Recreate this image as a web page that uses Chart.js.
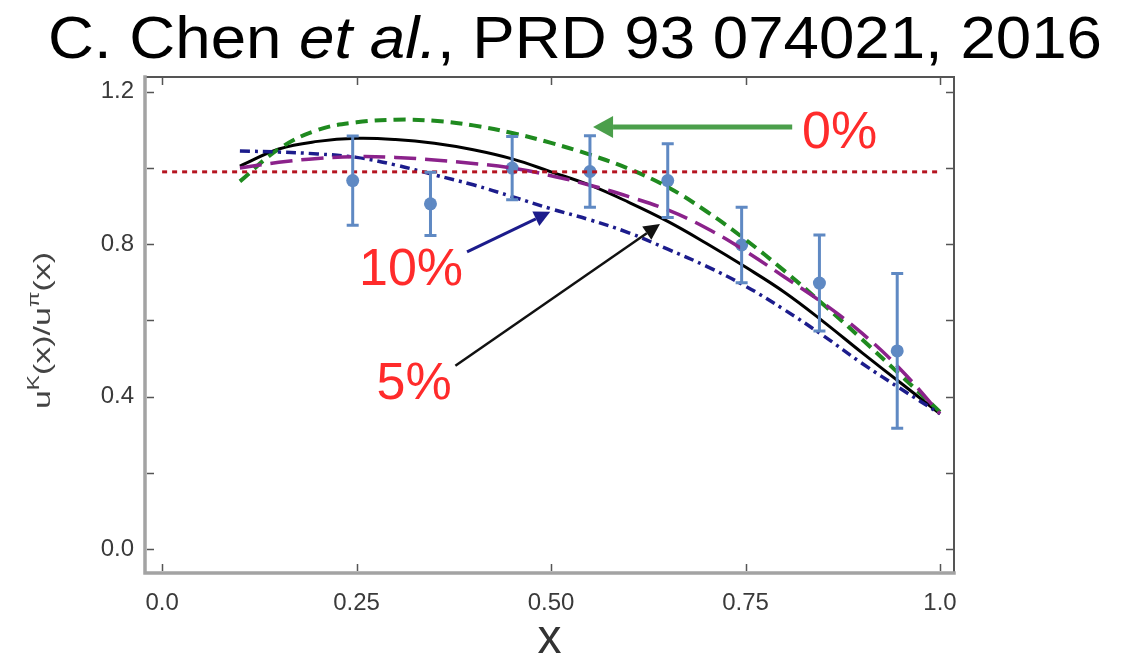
<!DOCTYPE html>
<html>
<head>
<meta charset="utf-8">
<script src="https://cdn.jsdelivr.net/npm/chart.js@4.4.1/dist/chart.umd.min.js"></script>
<style>
  html, body { margin: 0; padding: 0; background: #fff; }
  #wrap { width: 1122px; height: 658px; position: relative; }
</style>
</head>
<body>
<div id="wrap"><canvas id="c" width="1122" height="658"></canvas></div>
<script>
// Model curves u^K(x)/u^pi(x) on a common x grid
const curveX   = [0.10, 0.15, 0.20, 0.25, 0.30, 0.35, 0.40, 0.45, 0.50, 0.55, 0.60, 0.65, 0.70, 0.75, 0.80, 0.85, 0.90, 0.95, 1.00];
const ratio0   = [0.965, 1.050, 1.100, 1.120, 1.127, 1.124, 1.112, 1.092, 1.066, 1.035, 0.998, 0.950, 0.886, 0.812, 0.730, 0.642, 0.550, 0.455, 0.360]; // 0% (green dashed)
const ratio5   = [1.005, 1.050, 1.070, 1.078, 1.075, 1.065, 1.048, 1.024, 0.990, 0.955, 0.910, 0.860, 0.802, 0.740, 0.674, 0.597, 0.515, 0.435, 0.355]; // 5% (black solid)
const ratioMid = [1.000, 1.015, 1.025, 1.030, 1.028, 1.021, 1.012, 1.000, 0.980, 0.955, 0.925, 0.890, 0.842, 0.782, 0.714, 0.645, 0.566, 0.470, 0.355]; // purple long dash
const ratio10  = [1.045, 1.042, 1.037, 1.028, 1.008, 0.982, 0.956, 0.925, 0.893, 0.864, 0.830, 0.787, 0.742, 0.690, 0.628, 0.560, 0.487, 0.420, 0.355]; // 10% (blue dash-dot)

// Reference line
const unityX = [0.0, 1.0];
const unityY = [0.99, 0.99];

// Lattice points with symmetric errors
const latticeX   = [0.245, 0.345, 0.450, 0.550, 0.650, 0.745, 0.845, 0.945];
const latticeY   = [0.967, 0.906, 1.000, 0.991, 0.967, 0.798, 0.698, 0.520];
const latticeErr = [0.117, 0.083, 0.083, 0.094, 0.097, 0.099, 0.126, 0.203];

// Axis ticks
const xTicks = [0, 0.25, 0.5, 0.75, 1.0];
const xTickLabels = ['0.0', '0.25', '0.50', '0.75', '1.0'];
const yTicks = [0, 0.4, 0.8, 1.2];
const yTickLabels = ['0.0', '0.4', '0.8', '1.2'];
const yFrameTicks = [0, 0.2, 0.4, 0.6, 0.8, 1.0, 1.2];

const pts = (xs, ys) => xs.map((x, i) => ({ x: x, y: ys[i] }));

const FONT = '"Liberation Sans", Arial, sans-serif';

function drawSegments(ctx, segs, targetW) {
  let w = 0;
  segs.forEach(s => {
    ctx.font = (s.italic ? 'italic ' : '') + s.size + 'px ' + FONT;
    s.w = ctx.measureText(s.text).width;
    w += s.w;
  });
  const sx = targetW / w;
  ctx.save();
  ctx.scale(sx, 1);
  let cx = 0;
  segs.forEach(s => {
    ctx.font = (s.italic ? 'italic ' : '') + s.size + 'px ' + FONT;
    ctx.fillText(s.text, cx, s.dy || 0);
    cx += s.w;
  });
  ctx.restore();
}

function arrow(ctx, x0, y0, x1, y1, color, lw, hl, hw) {
  const a = Math.atan2(y1 - y0, x1 - x0);
  const bx = x1 - hl * Math.cos(a), by = y1 - hl * Math.sin(a);
  ctx.save();
  ctx.strokeStyle = color; ctx.fillStyle = color; ctx.lineWidth = lw; ctx.lineCap = 'butt';
  ctx.beginPath(); ctx.moveTo(x0, y0); ctx.lineTo(bx, by); ctx.stroke();
  ctx.beginPath();
  ctx.moveTo(x1, y1);
  ctx.lineTo(bx + hw * Math.sin(a), by - hw * Math.cos(a));
  ctx.lineTo(bx - hw * Math.sin(a), by + hw * Math.cos(a));
  ctx.closePath(); ctx.fill();
  ctx.restore();
}

// Error bars for the lattice points
const errorBars = {
  id: 'errorBars',
  afterDatasetsDraw(chart) {
    const { ctx, scales: { x, y } } = chart;
    ctx.save();
    ctx.strokeStyle = '#5f89c3';
    ctx.lineWidth = 3;
    latticeX.forEach((xv, i) => {
      const px = x.getPixelForValue(xv);
      const top = y.getPixelForValue(latticeY[i] + latticeErr[i]);
      const bot = y.getPixelForValue(latticeY[i] - latticeErr[i]);
      ctx.beginPath();
      ctx.moveTo(px, top); ctx.lineTo(px, bot);
      ctx.moveTo(px - 6, top); ctx.lineTo(px + 6, top);
      ctx.moveTo(px - 6, bot); ctx.lineTo(px + 6, bot);
      ctx.stroke();
    });
    ctx.restore();
  }
};

// Frame with inward ticks, titles and annotations
const decorations = {
  id: 'decorations',
  afterDraw(chart) {
    const { ctx, chartArea: a, scales: { x, y } } = chart;
    ctx.save();
    // frame
    ctx.lineCap = 'square';
    ctx.strokeStyle = '#555'; ctx.lineWidth = 2;
    ctx.beginPath(); ctx.moveTo(a.left, a.top); ctx.lineTo(a.right, a.top); ctx.lineTo(a.right, a.bottom); ctx.stroke();
    ctx.strokeStyle = '#a3a3a3'; ctx.lineWidth = 3.5;
    ctx.beginPath(); ctx.moveTo(a.left, a.top); ctx.lineTo(a.left, a.bottom); ctx.lineTo(a.right, a.bottom); ctx.stroke();
    // inward ticks
    ctx.strokeStyle = '#555'; ctx.lineWidth = 1.5; ctx.lineCap = 'butt';
    ctx.beginPath();
    yFrameTicks.forEach(v => {
      const py = Math.round(y.getPixelForValue(v)) + 0.5;
      ctx.moveTo(a.left + 2, py); ctx.lineTo(a.left + 9, py);
      ctx.moveTo(a.right - 1, py); ctx.lineTo(a.right - 8, py);
    });
    xTicks.forEach(v => {
      const px = Math.round(x.getPixelForValue(v)) + 0.5;
      ctx.moveTo(px, a.bottom - 2); ctx.lineTo(px, a.bottom - 9);
      ctx.moveTo(px, a.top + 1); ctx.lineTo(px, a.top + 8);
    });
    ctx.stroke();

    // heading
    ctx.fillStyle = '#000';
    ctx.textBaseline = 'alphabetic';
    ctx.save();
    ctx.translate(48, 58);
    drawSegments(ctx, [
      { text: 'C. Chen ', size: 60 },
      { text: 'et al.', size: 60, italic: true },
      { text: ', PRD 93 074021, 2016', size: 60 }
    ], 1054);
    ctx.restore();

    // x-axis title
    ctx.fillStyle = '#333';
    ctx.font = '48px ' + FONT;
    ctx.textAlign = 'center';
    ctx.fillText('x', (a.left + a.right) / 2, 653);
    ctx.textAlign = 'left';

    // y-axis title
    ctx.fillStyle = '#444';
    ctx.save();
    ctx.translate(50, 409);
    ctx.rotate(-Math.PI / 2);
    drawSegments(ctx, [
      { text: 'u', size: 24 },
      { text: 'K', size: 16, dy: -11 },
      { text: '(x)/u', size: 24 },
      { text: 'π', size: 16, dy: -11 },
      { text: '(x)', size: 24 }
    ], 157);
    ctx.restore();

    // arrows
    const P = (xv, yv) => [x.getPixelForValue(xv), y.getPixelForValue(yv)];
    let s, e;
    s = P(0.810, 1.108); e = P(0.554, 1.108);
    arrow(ctx, s[0], s[1], e[0], e[1], '#4b9f4b', 5, 20, 11);
    s = P(0.392, 0.780); e = P(0.499, 0.885);
    arrow(ctx, s[0], s[1], e[0], e[1], '#1c1c8c', 3, 16, 8);
    s = P(0.377, 0.481); e = P(0.640, 0.853);
    arrow(ctx, s[0], s[1], e[0], e[1], '#111', 2.5, 16, 8);

    // percentage labels
    ctx.fillStyle = '#ff2b2b';
    ctx.font = '52px ' + FONT;
    ctx.textAlign = 'center';
    ctx.textBaseline = 'alphabetic';
    [['0%', 0.871, 1.103], ['10%', 0.320, 0.743], ['5%', 0.324, 0.444]].forEach(([t, xv, yv]) => {
      const p = P(xv, yv);
      ctx.fillText(t, p[0], p[1] + 19);
    });
    ctx.restore();
  }
};

const lineStyle = (color, width, dash) => ({
  borderColor: color, borderWidth: width, borderDash: dash,
  pointRadius: 0, fill: false, showLine: true,
  tension: 0.4
});

new Chart(document.getElementById('c'), {
  type: 'scatter',
  data: {
    datasets: [
      Object.assign({ data: pts(unityX, unityY) }, lineStyle('#b51420', 3, [5, 5]), { tension: 0 }),
      Object.assign({ data: pts(curveX, ratioMid) }, lineStyle('#8b228b', 3.5, [22, 9])),
      Object.assign({ data: pts(curveX, ratio10) }, lineStyle('#1c1c8c', 3.5, [10, 5, 3, 5])),
      Object.assign({ data: pts(curveX, ratio0) }, lineStyle('#1f8a1f', 4, [12, 7])),
      Object.assign({ data: pts(curveX, ratio5) }, lineStyle('#000', 3, [])),
      {
        data: pts(latticeX, latticeY),
        showLine: false,
        pointRadius: 6.5,
        pointBackgroundColor: '#5f89c3',
        pointBorderWidth: 0
      }
    ]
  },
  options: {
    responsive: false,
    devicePixelRatio: 1,
    animation: false,
    layout: { padding: { top: 77, right: 168, left: 0, bottom: 0 } },
    plugins: { legend: { display: false }, tooltip: { enabled: false }, title: { display: false } },
    scales: {
      x: {
        type: 'linear',
        min: -0.022, max: 1.018,
        afterBuildTicks: s => { s.ticks = xTicks.map(v => ({ value: v })); },
        afterFit: s => { s.height = 85; },
        grid: { display: false, drawTicks: false },
        border: { display: false },
        ticks: {
          callback: v => xTickLabels[xTicks.indexOf(v)],
          font: { family: FONT, size: 24 },
          color: '#3a3a3a',
          padding: 16,
          maxRotation: 0,
          autoSkip: false
        }
      },
      y: {
        type: 'linear',
        min: -0.063, max: 1.239,
        afterBuildTicks: s => { s.ticks = yTicks.map(v => ({ value: v })); },
        afterFit: s => { s.width = 145; },
        grid: { display: false, drawTicks: false },
        border: { display: false },
        ticks: {
          callback: v => yTickLabels[yTicks.indexOf(v)],
          font: { family: FONT, size: 24 },
          color: '#3a3a3a',
          padding: 11,
          autoSkip: false
        }
      }
    }
  },
  plugins: [errorBars, decorations]
});
</script>
</body>
</html>
